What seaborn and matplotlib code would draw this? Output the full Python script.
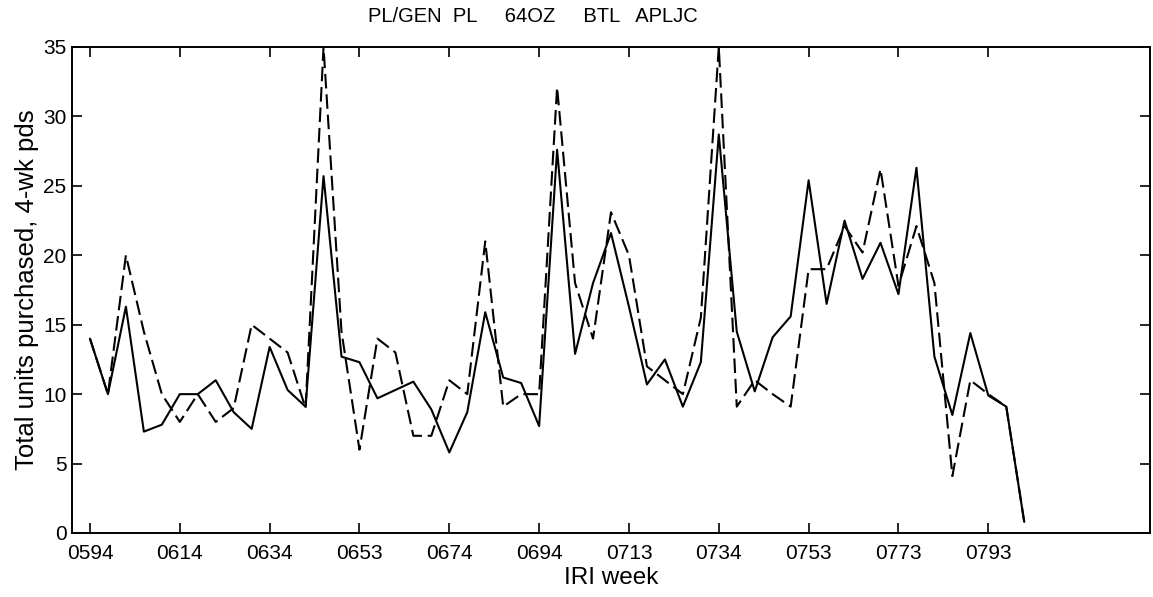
import numpy as np
import pandas as pd
import matplotlib
matplotlib.use("Agg")
import matplotlib.pyplot as plt
import seaborn as sns

# ---- data ----
tick_labels = ["0594", "0614", "0634", "0653", "0674", "0694",
               "0713", "0734", "0753", "0773", "0793"]
tick_index = [0, 5, 10, 15, 20, 25, 30, 35, 40, 45, 50]

solid_vals = [14, 10, 16.3, 7.3, 7.8, 10, 10, 11, 8.7, 7.5, 13.4,
              10.3, 9.1, 25.7, 12.7, 12.3, 9.7, 10.3, 10.9, 8.9, 5.8, 8.7,
              15.9, 11.2, 10.8, 7.7, 27.6, 12.9, 18, 21.6, 16.3, 10.7,
              12.5, 9.1, 12.3, 28.7, 14.5, 10.2, 14.1, 15.6, 25.4, 16.5, 22.5,
              18.3, 20.9, 17.2, 26.3, 12.7, 8.5, 14.4, 9.9, 9.1, 0.8]

dashed_vals = [14, 10, 20, 14.5, 10, 8, 10, 8, 9, 15, 14,
               13, 9, 35, 14.5, 6, 14, 13, 7, 7, 11, 10,
               21, 9.1, 10, 10, 32.1, 18, 14, 23.1, 20, 12,
               11, 10, 15.5, 35, 9.1, 11, 10, 9.1, 19, 19, 22.1,
               20.2, 26.2, 17.8, 22.1, 18, 4.1, 11, 10, 9.1, 0.8]

period = list(range(len(solid_vals)))

df = pd.concat([
    pd.DataFrame({"period": period, "units": solid_vals, "series": "solid"}),
    pd.DataFrame({"period": period, "units": dashed_vals, "series": "dashed"}),
], ignore_index=True)

# ---- style ----
sns.set_style("ticks")
plt.rcParams["font.family"] = ["Liberation Sans", "DejaVu Sans"]
plt.rcParams["text.color"] = "black"
plt.rcParams["axes.labelcolor"] = "black"

W, H = 1153, 597
fig = plt.figure(figsize=(W / 100, H / 100), dpi=100)
ax = fig.add_axes([72 / W, 1 - 533 / H, (1150 - 72) / W, (533 - 47) / H])

sns.lineplot(data=df, x="period", y="units", style="series",
             dashes={"solid": "", "dashed": (7, 2.8)},
             color="black", linewidth=1.5, legend=False, ax=ax,
             estimator=None, sort=False)

ax.set_xlim(-1, 59)
ax.set_ylim(0, 35)
ax.set_xticks(tick_index)
ax.set_xticklabels(tick_labels)
ax.set_yticks([0, 5, 10, 15, 20, 25, 30, 35])

for s in ax.spines.values():
    s.set_visible(True)
    s.set_color("black")
    s.set_linewidth(1.4)

ax.tick_params(axis="both", direction="in", length=7, width=1.2,
               top=True, right=True, labelsize=15, colors="black")
ax.tick_params(axis="x", pad=8)
ax.tick_params(axis="y", pad=4)

ax.set_xlabel("IRI week", fontsize=17.5, labelpad=3, color="black")
ax.set_ylabel("Total units purchased, 4-wk pds", fontsize=18.5,
              labelpad=3, color="black")

fig.text(0.462, 1 - 16 / H, "PL/GEN  PL     64OZ     BTL   APLJC",
         ha="center", va="center", fontsize=14.5, color="black")

fig.savefig("out.png", dpi=100)
